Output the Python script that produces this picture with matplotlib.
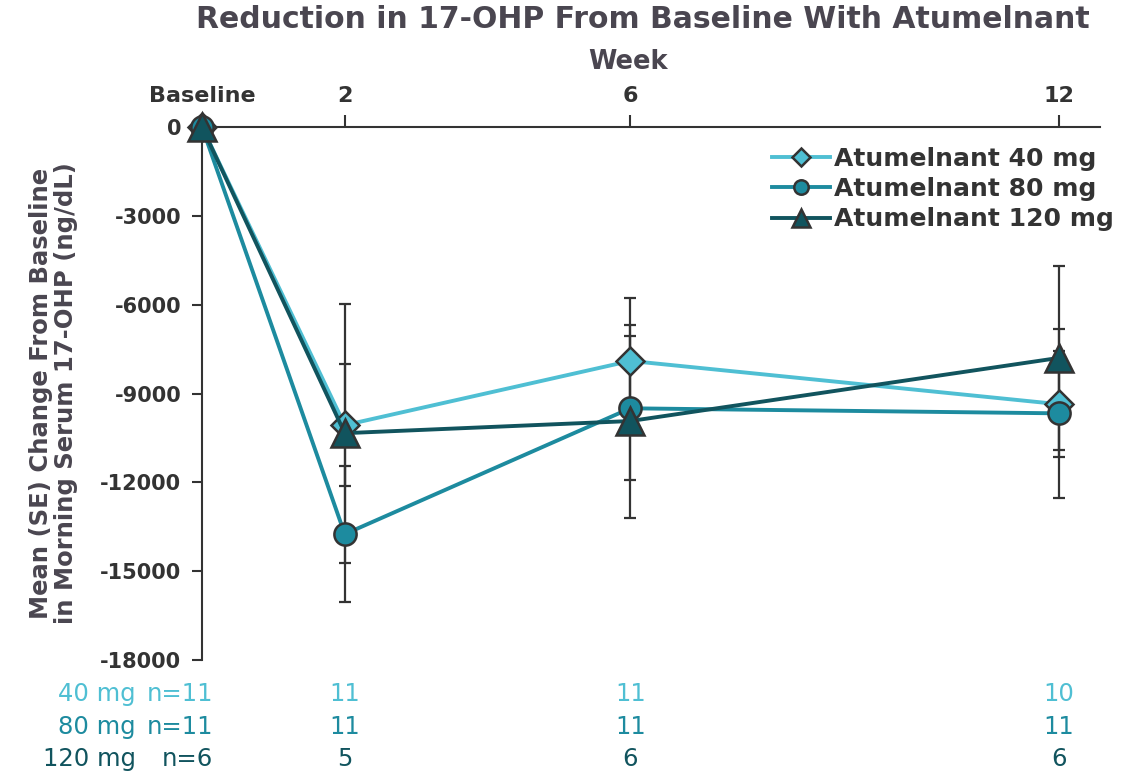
import matplotlib
matplotlib.use("Agg")
import matplotlib.pyplot as plt
from matplotlib.transforms import blended_transform_factory

plt.rcParams['font.family'] = ['DejaVu Sans']

weeks = [0, 2, 6, 12]
xtick_labels = ["Baseline", "2", "6", "12"]
series = ["Atumelnant 40 mg", "Atumelnant 80 mg", "Atumelnant 120 mg"]
mean_40 = [0, -10070, -7900, -9360]
se_40 = [0, 2060, 2140, 1800]
mean_80 = [0, -13750, -9500, -9670]
se_80 = [0, 2300, 2430, 2850]
mean_120 = [0, -10340, -9930, -7800]
se_120 = [0, 4370, 3260, 3110]
yticks = [0, -3000, -6000, -9000, -12000, -15000, -18000]
row_labels = ["40 mg", "80 mg", "120 mg"]
n_base = ["n=11", "n=11", "n=6"]
n_40 = ["11", "11", "10"]
n_80 = ["11", "11", "11"]
n_120 = ["5", "6", "6"]

colors = ["#4FBFD3", "#1D8B9F", "#11545E"]
markers = ["D", "o", "^"]
msizes = [14, 16, 20]
edge = "#333333"
textgray = "#4A4650"

fig = plt.figure(figsize=(11.35, 7.73), dpi=100)
ax = fig.add_axes([202/1135, 1-660/773, (1100-202)/1135, (660-127)/773])

means = [mean_40, mean_80, mean_120]
ses = [se_40, se_80, se_120]
for m, s in zip(means, ses):
    ax.errorbar(weeks[1:], m[1:], yerr=s[1:], fmt='none', ecolor=edge,
                elinewidth=1.6, capsize=4.5, capthick=1.6, zorder=2)
for m, c, mk, ms, lab in zip(means, colors, markers, msizes, series):
    ax.plot(weeks, m, color=c, lw=2.8, marker=mk, markersize=ms,
            markerfacecolor=c, markeredgecolor=edge, markeredgewidth=1.8,
            label=lab, zorder=3, clip_on=False)

ax.set_xlim(0, 12.58)
ax.set_ylim(-18000, 0)
for sp in ['right', 'bottom']:
    ax.spines[sp].set_visible(False)
for sp in ['top', 'left']:
    ax.spines[sp].set_color(edge)
    ax.spines[sp].set_linewidth(1.5)
ax.xaxis.tick_top()
ax.set_xticks(weeks)
ax.set_xticklabels(xtick_labels, fontsize=16, fontweight='bold', color=edge)
ax.tick_params(axis='x', direction='out', length=9, width=1.5, color=edge, pad=6)
ax.xaxis.get_major_ticks()[0].tick2line.set_visible(False)
ax.set_yticks(yticks)
ax.set_yticklabels([str(v) for v in yticks], fontsize=15, fontweight='bold', color=edge)
ax.tick_params(axis='y', direction='out', length=7, width=1.5, color=edge, pad=8)

ax.set_ylabel("Mean (SE) Change From Baseline\nin Morning Serum 17-OHP (ng/dL)",
              fontsize=17.5, fontweight='bold', color=textgray, labelpad=16,
              linespacing=1.05)

fig.text(643/1135, 1-19/773, "Reduction in 17-OHP From Baseline With Atumelnant",
         ha='center', va='center', fontsize=21.5, fontweight='bold', color=textgray)
fig.text(628/1135, 1-62/773, "Week", ha='center', va='center', fontsize=18.5,
         fontweight='bold', color=textgray)

leg = ax.legend(loc='upper right', bbox_to_anchor=(1.04, 1.005), frameon=False,
                handlelength=2.3, handletextpad=0.15, labelspacing=0.25,
                prop={'weight': 'bold', 'size': 18})
for t in leg.get_texts():
    t.set_color(edge)
for h in leg.legend_handles:
    h.set_markersize(h.get_markersize() * 0.65)

trans = blended_transform_factory(ax.transData, fig.transFigure)
row_ys = [1-694/773, 1-727/773, 1-759/773]
ncols = [n_40, n_80, n_120]
for lab, nb, vals, c, yy in zip(row_labels, n_base, ncols, colors, row_ys):
    fig.text(136/1135, yy, lab, ha='right', va='center', fontsize=17.5, color=c)
    fig.text(213/1135, yy, nb, ha='right', va='center', fontsize=17.5, color=c)
    for wk, v in zip(weeks[1:], vals):
        ax.text(wk, yy, v, transform=trans, ha='center', va='center',
                fontsize=17.5, color=c)

fig.savefig("out.png", dpi=100)
